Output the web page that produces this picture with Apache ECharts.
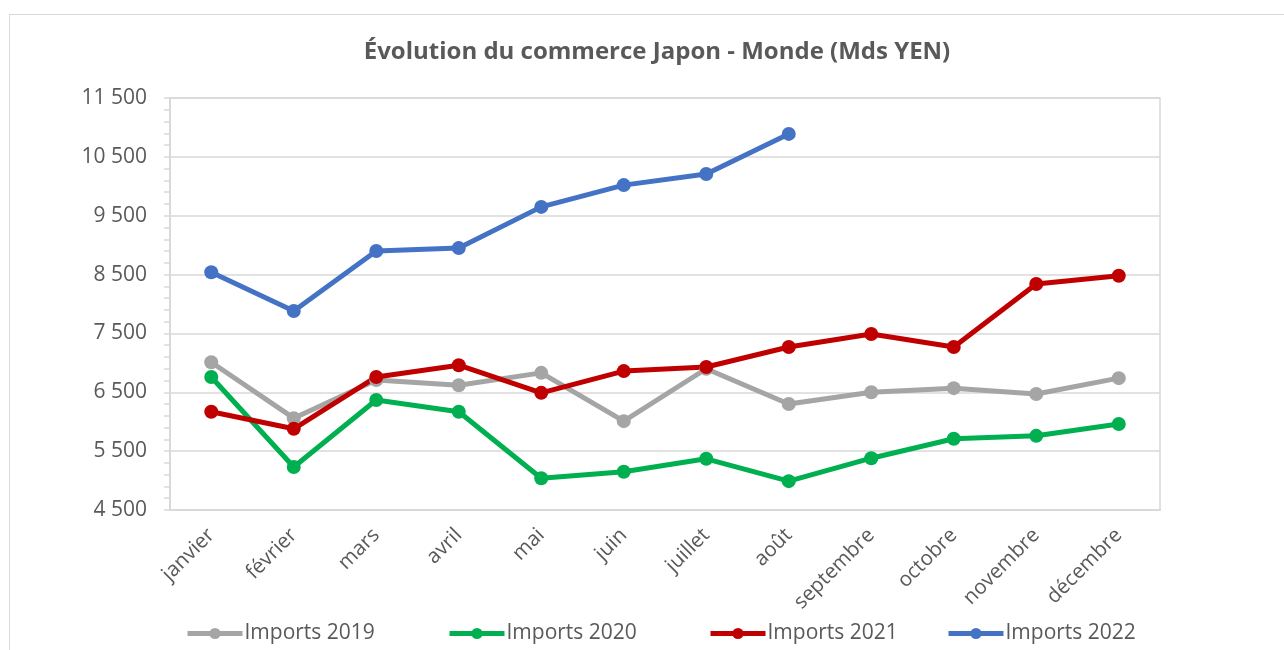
<!DOCTYPE html>
<html>
<head>
<meta charset="utf-8">
<script src="https://cdn.jsdelivr.net/npm/echarts@6/dist/echarts.min.js"></script>
<style>
html,body{margin:0;padding:0;background:#fff;}
#frame{position:absolute;left:9px;top:14px;width:1300px;height:700px;border:1.5px solid #d9d9d9;box-sizing:border-box;}
#chart{position:absolute;left:0;top:0;width:1284px;height:650px;}
</style>
</head>
<body>
<div id="frame"></div>
<div id="chart"></div>
<script>
const months = ['janvier','février','mars','avril','mai','juin','juillet','août','septembre','octobre','novembre','décembre'];
const seriesNames = ['Imports 2019','Imports 2020','Imports 2021','Imports 2022'];
const imports2019 = [7010, 6060, 6710, 6620, 6830, 6010, 6900, 6300, 6500, 6570, 6470, 6740];
const imports2020 = [6760, 5230, 6370, 6170, 5040, 5150, 5370, 4990, 5380, 5710, 5760, 5960];
const imports2021 = [6170, 5880, 6760, 6960, 6490, 6860, 6930, 7270, 7490, 7270, 8340, 8480];
const imports2022 = [8540, 7880, 8900, 8950, 9650, 10020, 10210, 10890];
const yTicks = {min: 4500, max: 11500, interval: 1000};

const chart = echarts.init(document.getElementById('chart'));
const font = '"Open Sans", sans-serif';
const colors = ['#A5A5A5','#00B050','#C00000','#4472C4'];
const legendLeft = [185, 447, 708, 946];
function mk(name, data, color){
  return {name, type:'line', data, symbol:'circle', symbolSize:14,
    lineStyle:{width:5, color}, itemStyle:{color}, color};
}
const legends = seriesNames.map((n,i)=>({
  data:[n], left:legendLeft[i], top:623, itemWidth:55, itemHeight:14,
  lineStyle:{width:5}, padding:0,
  textStyle:{fontFamily:font, fontSize:21, color:'#595959', padding:[0,0,0,-3]}
}));
chart.setOption({
  animation:false,
  title:{text:'Évolution du commerce Japon - Monde (Mds YEN)', left:652, textAlign:'center', top:35,
    textStyle:{fontFamily:font, fontSize:24, fontWeight:'bold', color:'#595959'}},
  grid:{left:170, right:124, top:98, bottom:140, show:true, borderColor:'#d9d9d9', borderWidth:1.5},
  legend:legends,
  xAxis:{type:'category', data:months, boundaryGap:true,
    axisLine:{lineStyle:{color:'#d9d9d9', width:2}},
    axisTick:{inside:true, length:8, lineStyle:{color:'#d9d9d9', width:1.5}},
    axisLabel:{rotate:45, margin:22, fontFamily:font, fontSize:20.5, color:'#595959'}},
  yAxis:{type:'value', min:yTicks.min, max:yTicks.max, interval:yTicks.interval,
    axisLine:{show:true, lineStyle:{color:'#d9d9d9', width:2}},
    axisTick:{show:true, length:6, lineStyle:{color:'#d9d9d9', width:1.5}},
    minorTick:{show:true, splitNumber:5, length:6, lineStyle:{color:'#d9d9d9', width:1.5}},
    splitLine:{lineStyle:{color:'#d9d9d9', width:1.5}},
    axisLabel:{margin:23, fontFamily:font, fontSize:21, color:'#595959',
      formatter:v=>String(v).replace(/\B(?=(\d{3})+(?!\d))/g,' ')}},
  series:[
    mk(seriesNames[0], imports2019, colors[0]),
    mk(seriesNames[1], imports2020, colors[1]),
    mk(seriesNames[2], imports2021, colors[2]),
    mk(seriesNames[3], imports2022, colors[3])
  ]
});
</script>
</body>
</html>
